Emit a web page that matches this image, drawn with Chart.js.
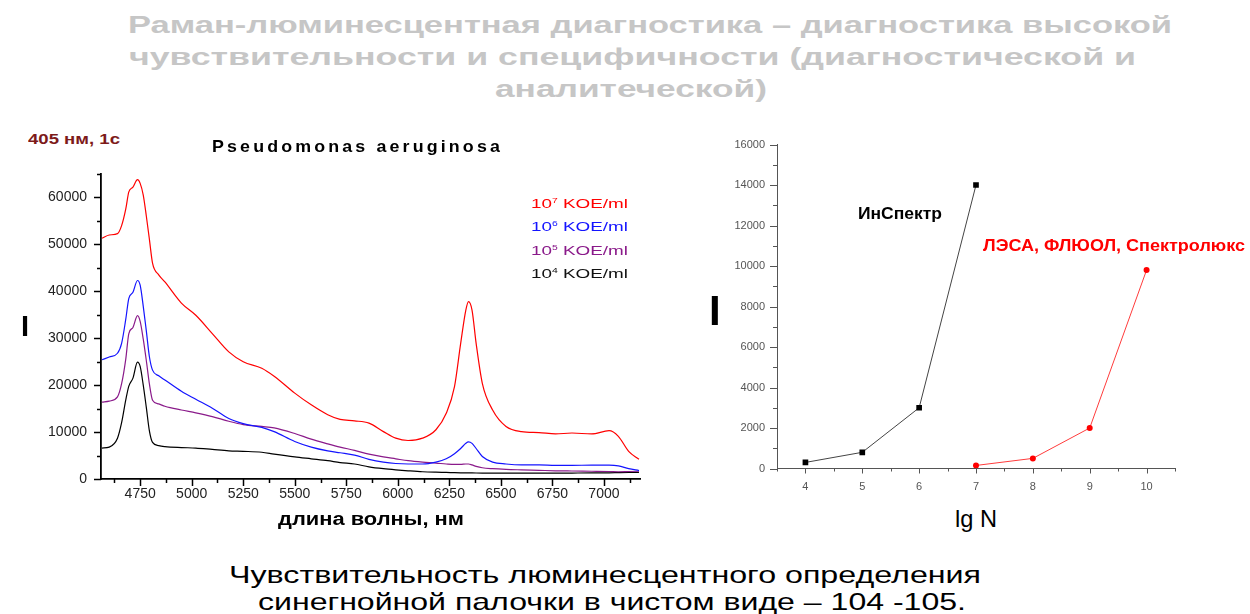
<!DOCTYPE html>
<html>
<head>
<meta charset="utf-8">
<script src="https://cdn.jsdelivr.net/npm/chart.js@4"></script>
<style>
  html, body { margin: 0; padding: 0; background: #fff; width: 1250px; height: 614px; overflow: hidden; position: relative; }
  canvas { position: absolute; }
  .t { position: absolute; white-space: nowrap; line-height: 1; transform-origin: 0 50%; font-family: Arial, "Liberation Sans", sans-serif; }
  .t sup { font-size: 0.55em; vertical-align: 0.75em; line-height: 0; }
</style>
</head>
<body>
<canvas id="spectra" width="660" height="360" style="left:0;top:150px"></canvas>
<canvas id="sens" width="520" height="380" style="left:700px;top:120px"></canvas>
<script>
// --- spectra, Pseudomonas aeruginosa (405 nm, 1 s) ---
const wavelength = [4565, 4600, 4640, 4660, 4680, 4695, 4715, 4737, 4750, 4765, 4780, 4795, 4810, 4840, 4870,
  4950, 5020, 5100, 5180, 5250, 5340, 5400, 5500, 5580, 5660, 5720, 5790, 5860, 5930, 5990, 6050, 6120,
  6185, 6235, 6275, 6305, 6330, 6343, 6360, 6380, 6410, 6460, 6525, 6600, 6685, 6765, 6845, 6940, 7025,
  7070, 7120, 7170];
const conc7 = [51300, 52000, 52300, 54000, 57500, 61200, 62200, 63800, 63000, 60500, 56000, 51000, 46000, 43500, 42000,
  37500, 34900, 31000, 27100, 25000, 23600, 21900, 18300, 15800, 13700, 12700, 12400, 11900, 10100, 8700, 8200, 8700,
  10500, 14000, 19700, 28900, 36000, 37800, 36000, 28900, 20400, 14700, 11200, 10100, 9900, 9600, 9800, 9600, 10300,
  9100, 5900, 4200];
const conc6 = [25400, 26000, 26800, 28900, 34000, 38500, 39800, 42300, 41300, 36800, 31500, 26000, 23200, 22000, 21100,
  18700, 17000, 15100, 12900, 11800, 11000, 10100, 8000, 6800, 6000, 5600, 5100, 4200, 3600, 3300, 3200, 3200,
  3600, 4300, 5400, 6500, 7600, 7900, 7600, 6500, 4800, 3600, 3200, 3000, 3000, 2900, 2900, 2950, 2950,
  2800, 2200, 1800];
const conc5 = [16400, 16600, 17500, 20300, 25500, 31000, 32300, 34800, 33600, 29800, 25200, 20200, 16800, 16000, 15500,
  14700, 14100, 13300, 12300, 11600, 11200, 10900, 9700, 8500, 7500, 6800, 6100, 5300, 4700, 4300, 3900, 3600,
  3400, 3200, 3100, 3100, 3200, 3200, 3000, 2700, 2400, 2200, 2050, 1950, 1850, 1750, 1700, 1650, 1600,
  1550, 1600, 1650];
const conc4 = [6600, 6800, 8700, 12000, 16800, 19800, 21500, 24900, 24000, 20000, 15200, 10200, 7800, 7100, 6900,
  6700, 6600, 6300, 6000, 5900, 5700, 5300, 4700, 4300, 3900, 3500, 3200, 2600, 2200, 1950, 1750, 1550,
  1450, 1400, 1350, 1320, 1300, 1300, 1290, 1280, 1270, 1260, 1260, 1260, 1260, 1260, 1270, 1290, 1320,
  1350, 1380, 1400];
const seriesNames = ['10<sup>7</sup> KOE/ml', '10<sup>6</sup> KOE/ml', '10<sup>5</sup> KOE/ml', '10<sup>4</sup> KOE/ml'];
const specXTicks = [4750, 5000, 5250, 5500, 5750, 6000, 6250, 6500, 6750, 7000];
const specYTicks = [0, 10000, 20000, 30000, 40000, 50000, 60000];

// --- sensitivity vs lg N ---
const lgN = [4, 5, 6, 7, 8, 9, 10];
const inspektr = [300, 800, 3000, 14000, null, null, null];
const lesa = [null, null, null, 150, 500, 2000, 9800];
const sensYTicks = [0, 2000, 4000, 6000, 8000, 10000, 12000, 14000, 16000];

const FONT = 'Arial, "Liberation Sans", sans-serif';
const specColors = ['#ff0000', '#1414ff', '#8a1a8a', '#000000'];

// outward Origin-style tick marks (major + minor), drawn from the chart's own scales
const originTicks = {
  id: 'originTicks',
  afterDraw(chart, args, opts) {
    const ctx = chart.ctx;
    ctx.save();
    ctx.strokeStyle = opts.color;
    ctx.lineWidth = opts.width;
    for (const id of ['x', 'y']) {
      const s = chart.scales[id];
      const o = opts[id];
      const start = Math.ceil(s.min / o.minor - 1e-9) * o.minor;
      for (let v = start; v <= s.max + 1e-9; v += o.minor) {
        const major = Math.abs(v / o.major - Math.round(v / o.major)) < 1e-6;
        const len = major ? o.majorLen : o.minorLen;
        const p = Math.round(s.getPixelForValue(v)) + 0.5;
        ctx.beginPath();
        if (id === 'x') { ctx.moveTo(p, s.top); ctx.lineTo(p, s.top + len); }
        else { ctx.moveTo(s.right, p); ctx.lineTo(s.right - len, p); }
        ctx.stroke();
      }
    }
    ctx.restore();
  }
};

const fixTicks = list => scale => { scale.ticks = list.map(v => ({ value: v })); };

const spectra = [conc7, conc6, conc5, conc4].map((vals, i) => ({
  data: wavelength.map((w, k) => ({ x: w, y: vals[k] })),
  borderColor: specColors[i],
  borderWidth: 1.2,
  pointRadius: 0,
  cubicInterpolationMode: 'monotone'
}));

new Chart(document.getElementById('spectra'), {
  type: 'line',
  data: { datasets: spectra },
  options: {
    responsive: false, animation: false, devicePixelRatio: 1,
    layout: { padding: { top: 24, right: 20, left: 0, bottom: 0 } },
    plugins: {
      legend: { display: false }, tooltip: { enabled: false },
      originTicks: {
        color: '#000', width: 1.5,
        x: { major: 250, minor: 125, majorLen: 7, minorLen: 4 },
        y: { major: 10000, minor: 5000, majorLen: 7, minorLen: 4 }
      }
    },
    scales: {
      x: {
        type: 'linear', min: 4560, max: 7175,
        grid: { display: false, drawTicks: false },
        border: { color: '#000', width: 1.8 },
        ticks: { padding: 7, autoSkip: false, maxRotation: 0,
          color: '#222', font: { size: 14, family: FONT }, callback: v => v },
        afterBuildTicks: fixTicks(specXTicks),
        afterFit: s => { s.height = 31; }
      },
      y: {
        min: 0, max: 65000,
        grid: { display: false, drawTicks: false },
        border: { color: '#000', width: 1.8 },
        ticks: { padding: 14, color: '#222', autoSkip: false,
          font: { size: 14, family: FONT }, callback: v => v },
        afterBuildTicks: fixTicks(specYTicks),
        afterFit: s => { s.width = 101; }
      }
    }
  },
  plugins: [originTicks]
});

new Chart(document.getElementById('sens'), {
  type: 'line',
  data: {
    datasets: [
      { data: lgN.map((x, i) => ({ x, y: inspektr[i] })), borderColor: '#444', backgroundColor: '#000',
        borderWidth: 1, pointStyle: 'rect', pointRadius: 4, pointBorderWidth: 0 },
      { data: lgN.map((x, i) => ({ x, y: lesa[i] })), borderColor: '#ff3b3b', backgroundColor: '#ff0000',
        borderWidth: 1, pointStyle: 'circle', pointRadius: 3, pointBorderWidth: 0 }
    ]
  },
  options: {
    responsive: false, animation: false, devicePixelRatio: 1,
    layout: { padding: { top: 24.5, right: 45, left: 0, bottom: 0 } },
    plugins: {
      legend: { display: false }, tooltip: { enabled: false },
      originTicks: {
        color: '#555', width: 1,
        x: { major: 1, minor: 0.5, majorLen: 5, minorLen: 3 },
        y: { major: 2000, minor: 1000, majorLen: 7, minorLen: 4 }
      }
    },
    scales: {
      x: {
        type: 'linear', min: 3.5, max: 10.5,
        grid: { display: false, drawTicks: false },
        border: { color: '#555', width: 1 },
        ticks: { padding: 12, color: '#555', autoSkip: false,
          font: { size: 11, family: FONT } },
        afterBuildTicks: fixTicks(lgN),
        afterFit: s => { s.height = 31.5; }
      },
      y: {
        min: 0, max: 16000,
        grid: { display: false, drawTicks: false },
        border: { color: '#555', width: 1 },
        ticks: { padding: 12, color: '#555', autoSkip: false,
          font: { size: 11, family: FONT }, callback: v => v },
        afterBuildTicks: fixTicks(sensYTicks),
        afterFit: s => { s.width = 77; }
      }
    }
  },
  plugins: [originTicks]
});

// text: left x, baseline y, target width (stretch), font size
function addText(html, x, baseline, w, size, o = {}) {
  const el = document.createElement('div');
  el.className = 't';
  el.innerHTML = html;
  el.style.fontSize = size + 'px';
  el.style.fontWeight = o.bold ? 'bold' : 'normal';
  el.style.color = o.color || '#000';
  if (o.spacing) el.style.letterSpacing = o.spacing + 'px';
  el.style.left = x + 'px';
  el.style.top = (baseline - 0.8465 * size) + 'px';
  document.body.appendChild(el);
  if (w) {
    const m = el.getBoundingClientRect().width;
    el.style.transform = 'scaleX(' + (w / m).toFixed(4) + ')';
  }
}

const grey = '#c6c6c6';
addText('Раман-люминесцентная диагностика – диагностика высокой', 128, 33, 1044, 24, { bold: true, color: grey });
addText('чувствительности и специфичности (диагностической и', 129, 65, 1007, 24, { bold: true, color: grey });
addText('аналитеческой)', 495, 97, 272, 24, { bold: true, color: grey });

addText('405 нм, 1с', 28, 144, 92, 15, { bold: true, color: '#7d1a1a' });
addText('Pseudomonas aeruginosa', 212, 152.5, 291, 17, { bold: true, spacing: 3 });
seriesNames.forEach((n, i) => addText(n, 531, [208, 231, 255, 278][i], 97, 13, { color: specColors[i] === '#000000' ? '#111' : specColors[i] }));
addText('I', 21, 337, 0, 29, { bold: true });
addText('длина волны, нм', 278, 525, 186, 18, { bold: true });

addText('ИнСпектр', 858, 219.5, 84, 17, { bold: true });
addText('ЛЭСА, ФЛЮОЛ, Спектролюкс', 983, 251, 262, 17, { bold: true, color: '#ff0000' });
addText('I', 709, 326, 0, 42, { bold: true });
addText('lg N', 955, 527, 42, 24);

addText('Чувствительность люминесцентного определения', 229, 583, 752, 24);
addText('синегнойной палочки в чистом виде – 104 -105.', 258, 610, 708, 24);
</script>
</body>
</html>
